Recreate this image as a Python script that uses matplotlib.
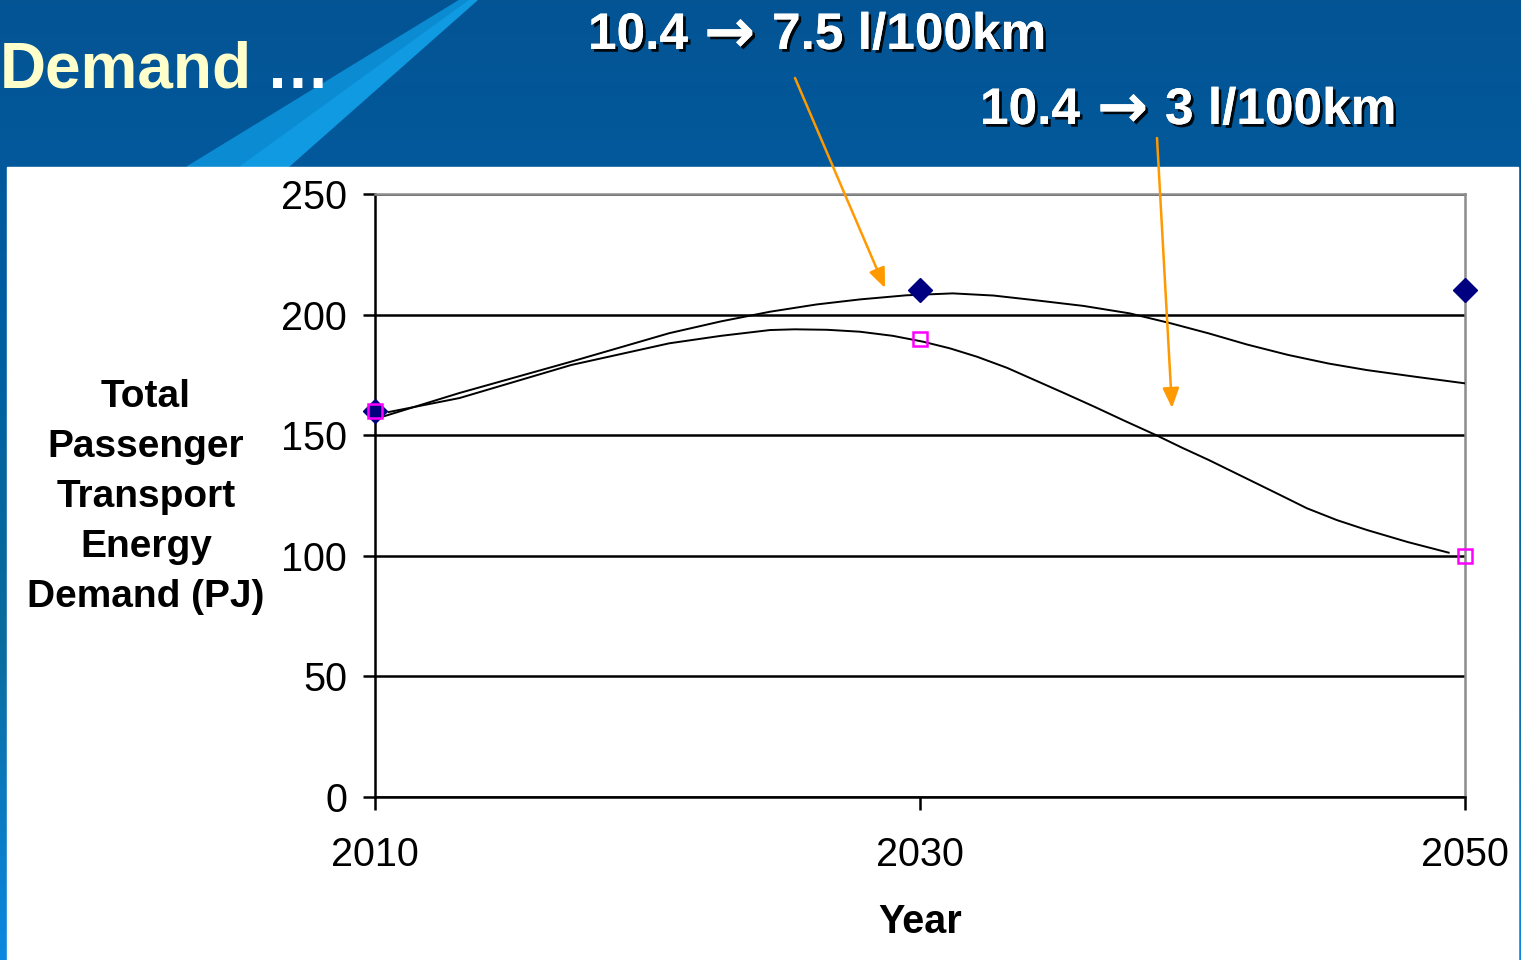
from matplotlib import pyplot as plt
from matplotlib.patches import Polygon, Rectangle
from matplotlib.colors import LinearSegmentedColormap
import matplotlib.patheffects as pe
import numpy as np

plt.rcParams['font.family'] = ['Liberation Sans', 'DejaVu Sans']

# scenario points
years = [2010, 2030, 2050]
base_vals = [160, 210, 210]      # 10.4 -> 7.5 l/100km
eff_vals = [160, 190, 100]       # 10.4 -> 3 l/100km

# smoothed curves
curve_a_years = [2010, 2013.1, 2017.2, 2020.8, 2022.7, 2024.5, 2026.2, 2027.8, 2029.5, 2031.2, 2032.7,
                 2034.2, 2036.0, 2037.7, 2039.2, 2040.6, 2042.0, 2043.5, 2045.0, 2046.4, 2048.2, 2050]
curve_a_vals = [156.7, 167.5, 180.5, 192.3, 197.2, 201.2, 204.2, 206.3, 208.0, 208.8, 207.9,
                206.0, 203.6, 200.5, 196.4, 192.2, 187.6, 183.3, 179.7, 177.0, 174.2, 171.5]
curve_b_years = [2010.5, 2013.1, 2017.2, 2020.8, 2022.7, 2024.5, 2025.4, 2026.6, 2027.8, 2029.0, 2030.1,
                 2031.1, 2032.1, 2033.2, 2034.2, 2035.3, 2036.4, 2037.5, 2038.65, 2039.6, 2040.6,
                 2042.1, 2043.2, 2044.2, 2045.3, 2046.4, 2047.9, 2049.4]
curve_b_vals = [159.6, 165.4, 179.1, 188.1, 191.2, 193.6, 193.9, 193.7, 192.9, 191.2, 188.8,
                186.0, 182.5, 177.9, 172.9, 167.4, 161.8, 156.0, 150.1, 144.9, 139.7,
                131.4, 125.3, 119.7, 114.8, 110.7, 105.7, 101.3]

y_ticks = [0, 50, 100, 150, 200, 250]

W, H = 1521, 960
fig = plt.figure(figsize=(W / 100, H / 100), dpi=100)

# slide background
bg = fig.add_axes([0, 0, 1, 1])
bg.set_xlim(0, W)
bg.set_ylim(H, 0)
bg.axis('off')
grad = np.linspace(0, 1, 256).reshape(-1, 1)
cmap = LinearSegmentedColormap.from_list('slide', ['#045494', '#005ea2', '#0a6c9e', '#0a88e0'])
bg.imshow(grad, cmap=cmap, extent=(0, W, H, 0), aspect='auto')
bg.add_patch(Polygon([(187, 167), (240, 167), (470, 0), (460, 0)], closed=True, color='#0b8bd2'))
bg.add_patch(Polygon([(240, 167), (288, 167), (477, 0), (470, 0)], closed=True, color='#0f9ae2'))
bg.add_patch(Rectangle((7, 167), 1511, 793, color='white'))

ax = fig.add_axes([375 / W, 163 / H, 1090 / W, 603 / H])
ax.set_facecolor('none')

ax.plot(curve_a_years, curve_a_vals, color='black', lw=1.4, zorder=3)
ax.plot(curve_b_years, curve_b_vals, color='black', lw=1.4, zorder=3)
ax.plot(years, base_vals, 'D', color='#000080', ms=12.5, ls='none', clip_on=False, zorder=4)
ax.plot(years, eff_vals, 's', mfc='none', mec='#ff00ff', mew=1.8, ms=9.5, ls='none', clip_on=False, zorder=5)

ax.set_xlim(2010, 2050)
ax.set_ylim(0, 250)
ax.set_xticks(years)
ax.set_yticks(y_ticks)
ax.tick_params(axis='both', length=9, width=1.8, labelsize=28.5, colors='black')
ax.tick_params(axis='y', pad=11)
ax.tick_params(axis='x', pad=19)
ax.grid(axis='y', color='black', lw=1.8)
ax.set_axisbelow(True)
for side in ['left', 'bottom']:
    ax.spines[side].set_linewidth(1.8)
    ax.spines[side].set_color('black')
for side in ['top', 'right']:
    ax.spines[side].set_linewidth(1.8)
    ax.spines[side].set_color('#8c8c8c')

# overlay for titles, labels and arrows
ov = fig.add_axes([0, 0, 1, 1], zorder=10)
ov.set_xlim(0, W)
ov.set_ylim(H, 0)
ov.axis('off')

ov.text(0, 88, 'Demand', color='#ffffcc', fontsize=46, fontweight='bold', ha='left', va='baseline')
ov.text(266, 88, '…', color='white', fontsize=46, fontweight='bold', ha='left', va='baseline')

shadow = [pe.withSimplePatchShadow(offset=(2, -2), shadow_rgbFace='black', alpha=0.9), pe.Normal()]
head_kw = dict(color='white', fontweight='bold', ha='left', va='baseline', path_effects=shadow)
ov.text(588, 49, '10.4', fontsize=37, **head_kw)
ov.text(704, 52, '→', fontsize=44, family='DejaVu Sans', **head_kw)
ov.text(772, 49, '7.5 l/100km', fontsize=37, **head_kw)
ov.text(980, 124, '10.4', fontsize=37, **head_kw)
ov.text(1097, 127, '→', fontsize=44, family='DejaVu Sans', **head_kw)
ov.text(1165, 124, '3 l/100km', fontsize=37, **head_kw)

arrow_kw = dict(arrowstyle='-|>,head_length=1.2,head_width=0.5', color='#ff9900', lw=1.8, shrinkA=0, shrinkB=0)
ov.annotate('', xy=(885, 288), xytext=(795, 78), arrowprops=arrow_kw)
ov.annotate('', xy=(1172, 408), xytext=(1157, 138), arrowprops=arrow_kw)

ov.text(146, 497, 'Total\nPassenger\nTransport\nEnergy\nDemand (PJ)', fontsize=28, fontweight='bold',
        ha='center', va='center', multialignment='center', linespacing=1.5)
ov.text(920, 922, 'Year', fontsize=28.5, fontweight='bold', ha='center', va='center')

fig.savefig('out.png', dpi=100)
